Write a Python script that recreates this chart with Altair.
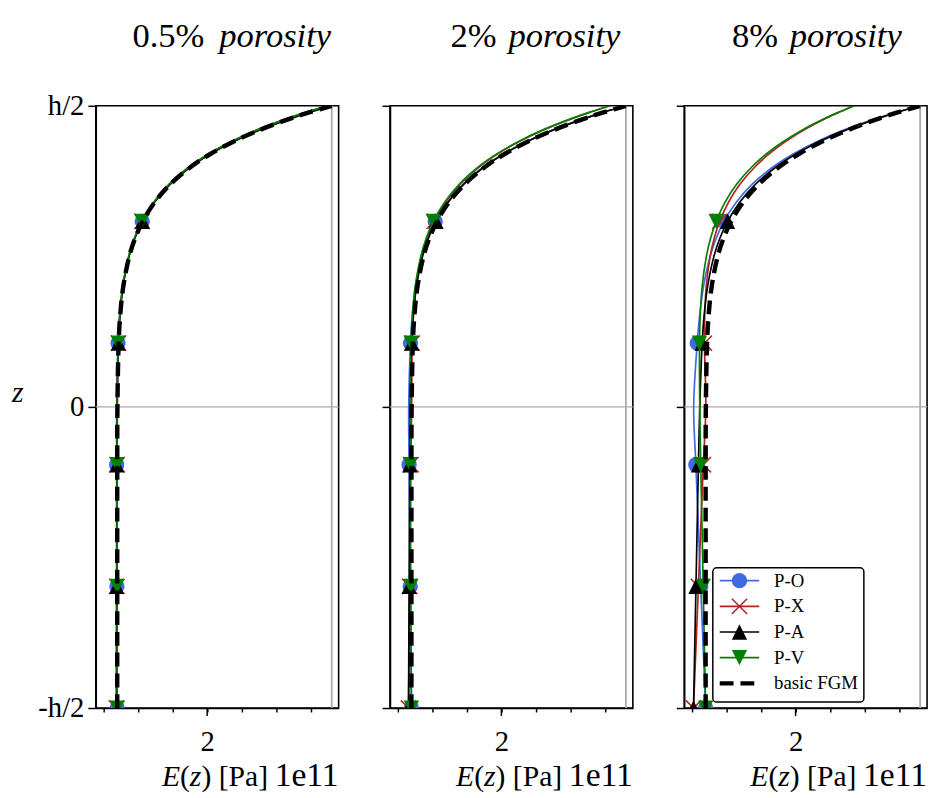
import altair as alt
import pandas as pd

# ---------------------------------------------------------------------------
# Data: Young's modulus E(z) through the plate thickness, in units of 1e11 Pa.
# z is given as a fraction of the thickness h (-h/2 .. h/2).
# ---------------------------------------------------------------------------
Z = [-0.5, -0.4, -0.298, -0.2, -0.096, 0.0, 0.106, 0.15, 0.2, 0.25, 0.28, 0.308,
     0.34, 0.37, 0.40, 0.42, 0.44, 0.46, 0.48, 0.49, 0.50]
MARK_IDX = [0, 2, 4, 6, 11]          # points that carry a marker

E_BASIC = [0.700, 0.700, 0.700, 0.700, 0.7004, 0.7030, 0.7207, 0.7417, 0.7876, 0.8746, 0.9584,
           1.0680, 1.2422, 1.4701, 1.7809, 2.0466, 2.3697, 2.7610, 3.2329, 3.5036, 3.800]

# 0.5 % porosity
PO_05 = [0.700, 0.6979, 0.6958, 0.6937, 0.6919, 0.6925, 0.7122, 0.7339, 0.7805, 0.8680, 0.9521,
         1.0618, 1.2362, 1.4644, 1.7756, 2.0417, 2.3654, 2.7577, 3.2310, 3.5025, 3.800]
PX_05 = [0.6895, 0.6916, 0.6937, 0.6958, 0.6984, 0.7030, 0.7184, 0.7384, 0.7829, 0.8680, 0.9503,
         1.0581, 1.2295, 1.4538, 1.7595, 2.0208, 2.3384, 2.7229, 3.1863, 3.4521, 3.7430]
PA_05 = [0.6895, 0.6906, 0.6916, 0.6927, 0.6941, 0.6977, 0.7164, 0.7378, 0.7841, 0.8713, 0.9552,
         1.0649, 1.2392, 1.4672, 1.7782, 2.0441, 2.3676, 2.7593, 3.2319, 3.5031, 3.800]
PV_05 = [0.700, 0.6990, 0.6979, 0.6969, 0.6962, 0.6977, 0.7141, 0.7345, 0.7793, 0.8648, 0.9472,
         1.0551, 1.2265, 1.4509, 1.7569, 2.0184, 2.3363, 2.7212, 3.1854, 3.4516, 3.7430]

# 2 % porosity
PO_2 = [0.700, 0.6916, 0.6830, 0.6748, 0.6664, 0.6608, 0.6866, 0.7105, 0.7592, 0.8484, 0.9331,
        1.0434, 1.2183, 1.4472, 1.7595, 2.0270, 2.3526, 2.7477, 3.2251, 3.4994, 3.800]
PX_2 = [0.6580, 0.6664, 0.6750, 0.6832, 0.6923, 0.7030, 0.7115, 0.7283, 0.7687, 0.8484, 0.9262,
        1.0285, 1.1915, 1.4048, 1.6954, 1.9435, 2.2446, 2.6086, 3.0467, 3.2976, 3.5720]
PA_2 = [0.6580, 0.6622, 0.6665, 0.6706, 0.6754, 0.6819, 0.7037, 0.7261, 0.7734, 0.8615, 0.9457,
        1.0557, 1.2303, 1.4586, 1.7702, 2.0368, 2.3612, 2.7544, 3.2290, 3.5015, 3.800]
PV_2 = [0.700, 0.6958, 0.6915, 0.6874, 0.6834, 0.6819, 0.6945, 0.7128, 0.7545, 0.8352, 0.9135,
        1.0162, 1.1796, 1.3934, 1.6847, 1.9336, 2.2360, 2.6020, 3.0428, 3.2955, 3.5720]

# 8 % porosity
PO_8 = [0.700, 0.6650, 0.6293, 0.5950, 0.5589, 0.5273, 0.5787, 0.6119, 0.6695, 0.7653, 0.8530,
        0.9655, 1.1428, 1.3745, 1.6919, 1.9647, 2.2986, 2.7058, 3.2006, 3.4861, 3.800]
PX_8 = [0.5250, 0.5600, 0.5957, 0.6300, 0.6668, 0.7030, 0.6825, 0.6861, 0.7088, 0.7653, 0.8242,
        0.9035, 1.0310, 1.1981, 1.4247, 1.6168, 1.8484, 2.1260, 2.4570, 2.6452, 2.8500]
PA_8 = [0.5250, 0.5425, 0.5604, 0.5775, 0.5960, 0.6151, 0.6497, 0.6768, 0.7285, 0.8199, 0.9057,
        1.0167, 1.1925, 1.4223, 1.7364, 2.0057, 2.3342, 2.7334, 3.2167, 3.4948, 3.800]
PV_8 = [0.700, 0.6825, 0.6647, 0.6475, 0.6297, 0.6151, 0.6115, 0.6212, 0.6498, 0.7106, 0.7715,
        0.8523, 0.9813, 1.1504, 1.3802, 1.5759, 1.8128, 2.0984, 2.4408, 2.6365, 2.8500]

POROSITY = ["0.5%", "2%", "8%"]
CURVES = [
    {"P-O": PO_05, "P-X": PX_05, "P-A": PA_05, "P-V": PV_05},
    {"P-O": PO_2, "P-X": PX_2, "P-A": PA_2, "P-V": PV_2},
    {"P-O": PO_8, "P-X": PX_8, "P-A": PA_8, "P-V": PV_8},
]

SERIES = ["P-O", "P-X", "P-A", "P-V"]
LEGEND_ORDER = SERIES + ["basic FGM"]
COLORS = ["#4169e1", "#b22222", "#000000", "#008000", "#000000"]

E_CERAMIC = [3.8]
Z_MID = [0.0]
X_TICKS = [0.5, 1.0, 1.5, 2.0, 2.5, 3.0, 3.5]
X_MAJOR = [2.0]
Y_TICKS = [-0.5, 0.0, 0.5]

# ---------------------------------------------------------------------------
# Styling
# ---------------------------------------------------------------------------
FONT = "Liberation Serif"
W, H = 246, 610
TITLE_NUM_RIGHT = [110, 108, 95]     # right edge of the "x%" part in each panel
TITLE_WORD_LEFT = [125, 120, 107]    # left edge of the italic word
XLAB_BASE = 689                      # baseline of the x-axis title

X_PATH = "M-1,-1L1,1M-1,1L1,-1"
TRI_UP = "M0,-1L-1,1L1,1Z"
TRI_DOWN = "M0,1L-1,-1L1,-1Z"
SHAPES = ["circle", X_PATH, TRI_UP, TRI_DOWN, "circle"]
MARKER_SIZE = 240

# legend box (inside the last panel)
LEG_BOX = (29, 182, 468, 604)
LEG_ROW0, LEG_ROW_STEP = 481, 26
LEG_LINE = (36, 76)
LEG_TEXT_X = 91

x_scale = alt.Scale(domain=[0.39, 3.9], nice=False, zero=False)
y_scale = alt.Scale(domain=[-0.5, 0.5], nice=False, zero=False)
color_scale = alt.Scale(domain=LEGEND_ORDER, range=COLORS)
shape_scale = alt.Scale(domain=LEGEND_ORDER, range=SHAPES)

ONE = pd.DataFrame({"k": [0]})


def x_axis():
    return alt.Axis(values=X_TICKS, labelExpr="datum.value == 2 ? '2' : ''", tickSize=4,
                    labelPadding=16, title=None, grid=False, labelFlush=False)


def y_axis(show):
    return alt.Axis(values=Y_TICKS, labels=show,
                    labelExpr="datum.value > 0 ? 'h/2' : (datum.value < 0 ? '-h/2' : '0')",
                    tickSize=8, labelPadding=4, title=None, grid=False)


def text(s, px, py, size, italic=False, align="left", baseline="alphabetic"):
    return alt.Chart(ONE).mark_text(
        text=s, font=FONT, fontSize=size, fontStyle="italic" if italic else "normal",
        align=align, baseline=baseline, color="black"
    ).encode(x=alt.value(px), y=alt.value(py))


def legend_layers():
    x0, x1, y0, y1 = LEG_BOX
    out = [
        alt.Chart(ONE).mark_rect(fill="white", stroke="black", strokeWidth=1.5, cornerRadius=4).encode(
            x=alt.value(x0), x2=alt.value(x1), y=alt.value(y0), y2=alt.value(y1))
    ]
    for j, name in enumerate(LEGEND_ORDER):
        yc = LEG_ROW0 + LEG_ROW_STEP * j
        col = COLORS[j]
        if name == "basic FGM":
            out.append(alt.Chart(ONE).mark_rule(color=col, strokeWidth=4.5, strokeDash=[14, 7]).encode(
                x=alt.value(LEG_LINE[0]), x2=alt.value(LEG_LINE[1]), y=alt.value(yc)))
        else:
            out.append(alt.Chart(ONE).mark_rule(color=col, strokeWidth=1.7).encode(
                x=alt.value(LEG_LINE[0]), x2=alt.value(LEG_LINE[1]), y=alt.value(yc)))
            filled = name != "P-X"
            out.append(alt.Chart(ONE).mark_point(
                shape=SHAPES[j], size=MARKER_SIZE, filled=filled, color=col, opacity=1,
                strokeWidth=1.5).encode(x=alt.value((LEG_LINE[0] + LEG_LINE[1]) / 2), y=alt.value(yc)))
        out.append(text(name, LEG_TEXT_X, yc, 19, baseline="middle"))
    return out


def panel(k):
    curves = CURVES[k]
    xa, ya = x_axis(), y_axis(k == 0)
    X = alt.X("E:Q", scale=x_scale, axis=xa)
    Y = alt.Y("z:Q", scale=y_scale, axis=ya)

    layers = [
        alt.Chart(pd.DataFrame({"E": E_CERAMIC})).mark_rule(color="#aaaaaa", strokeWidth=1.8).encode(x=X),
        alt.Chart(pd.DataFrame({"z": Z_MID})).mark_rule(color="#aaaaaa", strokeWidth=1.3).encode(y=Y),
        # longer tick for the labelled value
        alt.Chart(pd.DataFrame({"E": X_MAJOR})).mark_rule(color="black", strokeWidth=1.5).encode(
            x=X, y=alt.value(H), y2=alt.value(H + 8)),
    ]

    for s in SERIES:
        df = pd.DataFrame({"z": Z, "E": curves[s], "i": list(range(len(Z))), "series": s})
        layers.append(
            alt.Chart(df).mark_line(clip=True, strokeWidth=1.7, interpolate="catmull-rom").encode(
                x=X, y=Y, order="i:Q",
                color=alt.Color("series:N", scale=color_scale, legend=None))
        )
        mk = df.iloc[MARK_IDX]
        layers.append(
            alt.Chart(mk).mark_point(clip=True, filled=(s != "P-X"), size=MARKER_SIZE, opacity=1,
                                     strokeWidth=1.5).encode(
                x=X, y=Y,
                color=alt.Color("series:N", scale=color_scale, legend=None),
                shape=alt.Shape("series:N", scale=shape_scale, legend=None))
        )

    basic = pd.DataFrame({"z": Z, "E": E_BASIC, "i": list(range(len(Z)))})
    layers.append(
        alt.Chart(basic).mark_line(clip=True, color="black", strokeWidth=4.5, strokeDash=[14, 7],
                                   interpolate="catmull-rom").encode(x=X, y=Y, order="i:Q")
    )

    # panel title: "x% porosity"
    layers.append(text(POROSITY[k], TITLE_NUM_RIGHT[k], -60, 35, align="right"))
    layers.append(text("porosity", TITLE_WORD_LEFT[k], -60, 35, italic=True))

    # x-axis title E(z) [Pa] and the 1e11 multiplier
    layers.append(text("E", 67, XLAB_BASE, 30, italic=True))
    layers.append(text("(", 85.3, XLAB_BASE, 30))
    layers.append(text("z", 95.3, XLAB_BASE, 30, italic=True))
    layers.append(text(") [Pa]", 107, XLAB_BASE, 30))
    layers.append(text("1e11", W, XLAB_BASE, 34, align="right"))

    if k == 0:
        layers.append(text("z", -79, 300, 30, italic=True, align="center"))
    if k == 2:
        layers.extend(legend_layers())

    return alt.layer(*layers).properties(width=W, height=H)


chart = alt.hconcat(*[panel(k) for k in range(3)], spacing=40).properties(
    padding={"left": 11, "top": 13, "right": 2, "bottom": 2}
).configure_view(
    stroke="black", strokeWidth=1.6
).configure_axis(
    labelFont=FONT, labelFontSize=29, labelColor="black",
    tickColor="black", tickWidth=1.5, domainColor="black", domainWidth=1.6,
)

chart.save("out.html", embed_options={"renderer": "svg", "actions": False})
